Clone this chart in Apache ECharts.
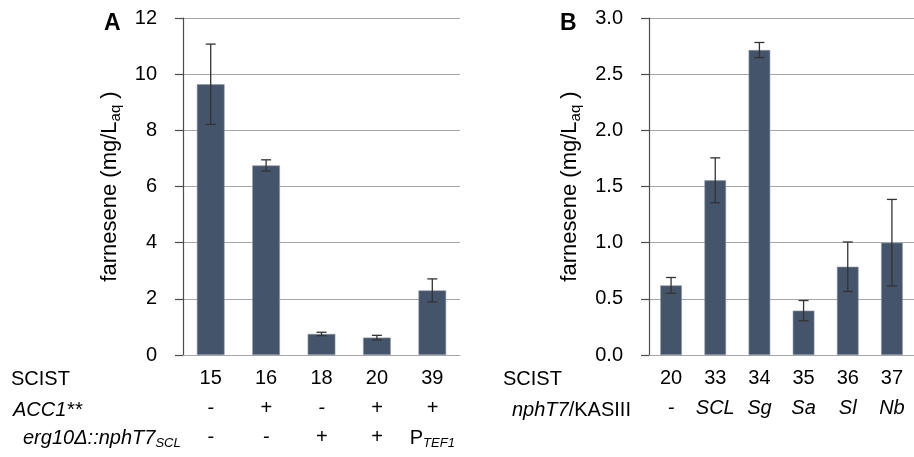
<!DOCTYPE html>
<html>
<head>
<meta charset="utf-8">
<script src="https://cdn.jsdelivr.net/npm/echarts@6/dist/echarts.min.js"></script>
<style>
html, body { margin: 0; padding: 0; background: #fff; }
#chart { width: 914px; height: 457px; }
</style>
</head>
<body>
<div id="chart"></div>
<script>
// 面板A数据
var strainsA = ['15', '16', '18', '20', '39'];
var acc1A = ['-', '+', '-', '+', '+'];
var erg10A = ['-', '-', '+', '+', '{up|P}{sub|TEF1}'];
var meanA = [9.64, 6.75, 0.75, 0.62, 2.30];
var errA = [1.43, 0.20, 0.06, 0.08, 0.41];
var ticksA = {min: 0, max: 12, interval: 2};

// 面板B数据
var strainsB = ['20', '33', '34', '35', '36', '37'];
var kasB = ['-', 'SCL', 'Sg', 'Sa', 'Sl', 'Nb'];
var meanB = [0.62, 1.555, 2.715, 0.395, 0.786, 1.0];
var errB = [0.07, 0.20, 0.067, 0.09, 0.22, 0.385];
var ticksB = {min: 0, max: 3, interval: 0.5};

var FONT = 'Liberation Sans, Arial, Helvetica, sans-serif';
var BAR = '#44546a';
var GRID = '#a6a6a6';
var AXIS = '#4d4d4d';

var chart = echarts.init(document.getElementById('chart'));

// 误差线数据 [类目序号, 上限, 下限]
function errData(m, e) {
  return m.map(function (v, i) { return [i, v + e[i], v - e[i]]; });
}

// 误差线绘制
function renderErr(params, api) {
  var hi = api.coord([api.value(0), api.value(1)]);
  var lo = api.coord([api.value(0), api.value(2)]);
  var w = 5;
  var st = {stroke: '#333', lineWidth: 1.3};
  return {
    type: 'group',
    children: [
      {type: 'line', shape: {x1: hi[0], y1: hi[1], x2: lo[0], y2: lo[1]}, style: st},
      {type: 'line', shape: {x1: hi[0] - w, y1: hi[1], x2: hi[0] + w, y2: hi[1]}, style: st},
      {type: 'line', shape: {x1: lo[0] - w, y1: lo[1], x2: lo[0] + w, y2: lo[1]}, style: st}
    ]
  };
}

var subRich = {
  it: {fontFamily: FONT, fontSize: 20, fontStyle: 'italic', color: '#000'},
  up: {fontFamily: FONT, fontSize: 20, fontStyle: 'normal', color: '#000'},
  sub: {fontFamily: FONT, fontSize: 13, fontStyle: 'italic', color: '#000', padding: [10, 0, 0, 0]}
};

function rowAxis(grid, data, margin, italic) {
  return {
    type: 'category',
    gridIndex: grid,
    position: 'bottom',
    data: data,
    axisLine: {show: false},
    axisTick: {show: false},
    splitLine: {show: false},
    axisLabel: {
      margin: margin,
      interval: 0,
      fontFamily: FONT,
      fontSize: 20,
      fontStyle: italic ? 'italic' : 'normal',
      color: '#000',
      rich: subRich
    }
  };
}

function valueAxis(grid, t, gap, fmt) {
  return {
    type: 'value',
    gridIndex: grid,
    min: t.min,
    max: t.max,
    interval: t.interval,
    name: 'farnesene (mg/L{sub|aq} )',
    nameLocation: 'middle',
    nameGap: gap,
    nameTextStyle: {
      fontFamily: FONT,
      fontSize: 22,
      color: '#000',
      rich: {sub: {fontFamily: FONT, fontSize: 15, color: '#000', padding: [11, 0, 0, 0]}}
    },
    axisLine: {show: true, lineStyle: {color: AXIS, width: 1.2}},
    axisTick: {show: true, inside: false, length: 8, lineStyle: {color: AXIS, width: 1.2}},
    axisLabel: {margin: 26, fontFamily: FONT, fontSize: 20, color: '#000', formatter: fmt},
    splitLine: {show: true, lineStyle: {color: GRID, width: 1.2}}
  };
}

function catAxis(grid, data) {
  return {
    type: 'category',
    gridIndex: grid,
    position: 'bottom',
    data: data,
    axisLine: {show: true, lineStyle: {color: GRID, width: 1.2}},
    axisTick: {show: false},
    axisLabel: {margin: 13, interval: 0, fontFamily: FONT, fontSize: 20, color: '#000'}
  };
}

var option = {
  animation: false,
  grid: [
    {left: 183, top: 18, width: 277, height: 337},
    {left: 649, top: 18, width: 270, height: 337}
  ],
  xAxis: [
    catAxis(0, strainsA),
    rowAxis(0, acc1A, 43, true),
    rowAxis(0, erg10A, 72, true),
    catAxis(1, strainsB),
    rowAxis(1, kasB, 43, true)
  ],
  yAxis: [
    valueAxis(0, ticksA, 60, null),
    valueAxis(1, ticksB, 66, function (v) { return v.toFixed(1); })
  ],
  series: [
    {
      type: 'bar', xAxisIndex: 0, yAxisIndex: 0, data: meanA, barWidth: '50%',
      itemStyle: {color: BAR, borderColor: '#8e99aa', borderWidth: 0.6}
    },
    {
      type: 'custom', xAxisIndex: 0, yAxisIndex: 0, data: errData(meanA, errA),
      renderItem: renderErr, encode: {x: 0, y: [1, 2]}, z: 5
    },
    {
      type: 'bar', xAxisIndex: 3, yAxisIndex: 1, data: meanB, barWidth: '49%',
      itemStyle: {color: BAR, borderColor: '#8e99aa', borderWidth: 0.6}
    },
    {
      type: 'custom', xAxisIndex: 3, yAxisIndex: 1, data: errData(meanB, errB),
      renderItem: renderErr, encode: {x: 0, y: [1, 2]}, z: 5
    }
  ],
  // 面板字母和表格行标题
  graphic: [
    {type: 'text', left: 104, top: 12, style: {text: 'A', font: 'bold 23px ' + FONT, fill: '#000'}},
    {type: 'text', left: 560, top: 12, style: {text: 'B', font: 'bold 23px ' + FONT, fill: '#000'}},
    {type: 'text', left: 11, top: 369, style: {text: 'SCIST', font: '20px ' + FONT, fill: '#000'}},
    {type: 'text', left: 13, top: 400, style: {text: 'ACC1**', font: 'italic 20px ' + FONT, fill: '#000'}},
    {type: 'text', left: 23, top: 428, style: {text: '{it|erg10Δ::nphT7}{sub|SCL}', rich: subRich}},
    {type: 'text', left: 503, top: 369, style: {text: 'SCIST', font: '20px ' + FONT, fill: '#000'}},
    {type: 'text', left: 512, top: 400, style: {text: '{it|nphT7}{up|/KASIII}', rich: subRich}}
  ]
};

chart.setOption(option);
</script>
</body>
</html>
